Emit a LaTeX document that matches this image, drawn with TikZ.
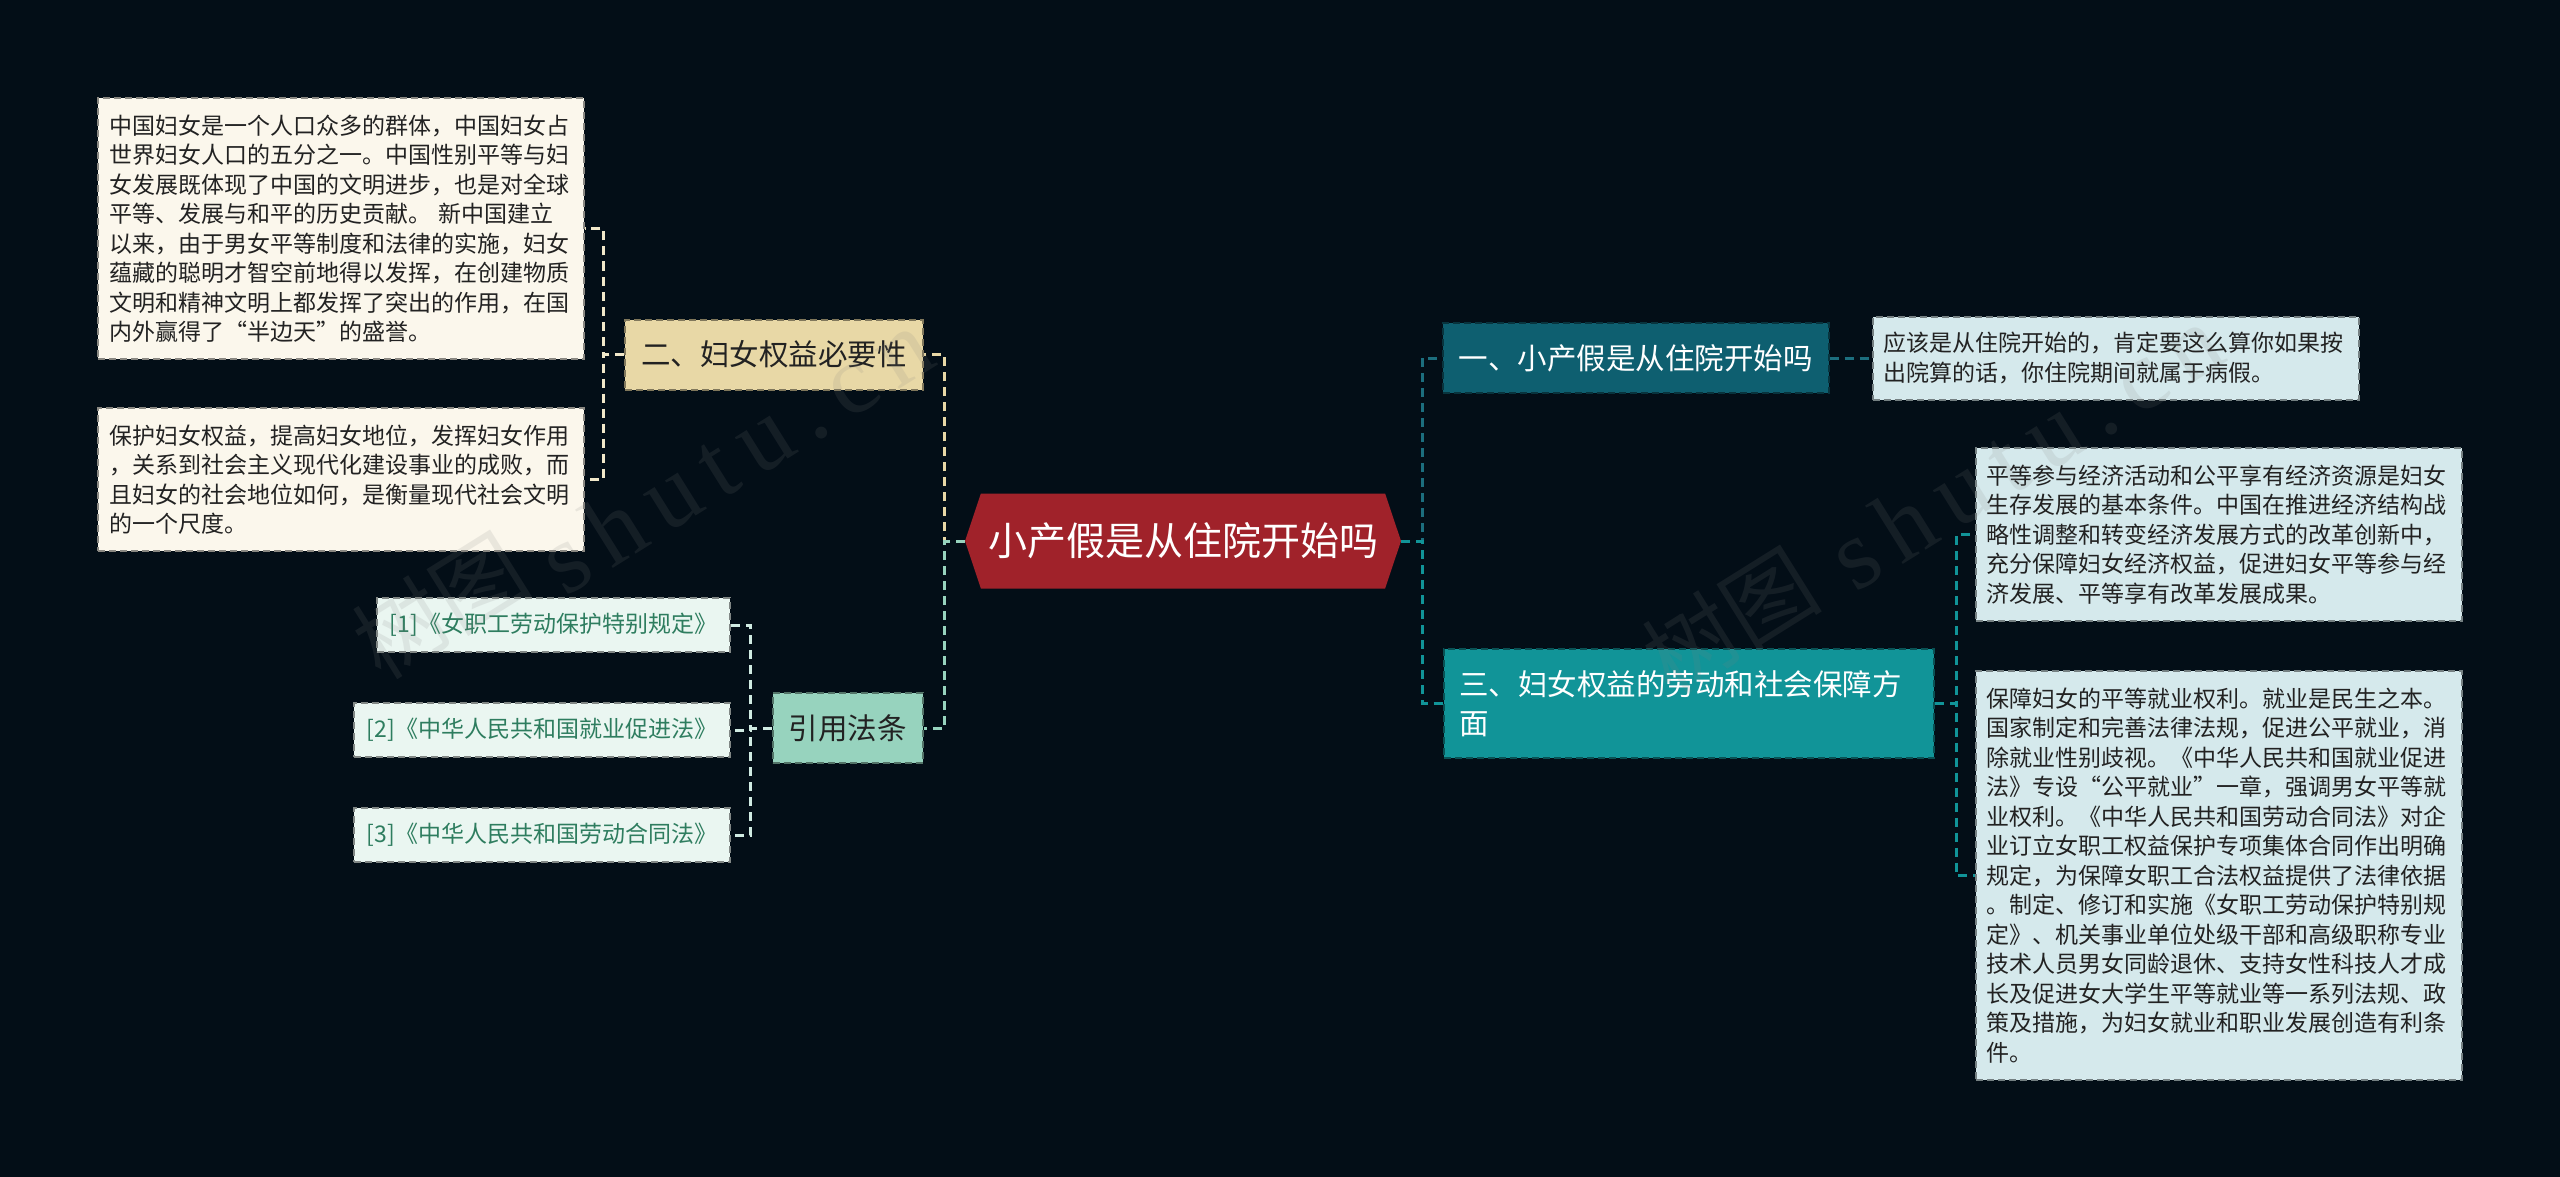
\documentclass[tikz,border=0pt]{standalone}
\usepackage{fontspec}
\setmainfont{Noto Sans CJK SC}
\newfontfamily\latinmark[LetterSpace=15]{Liberation Serif}
\usetikzlibrary{positioning,shapes.symbols}

\definecolor{bgnavy}{HTML}{030E17}
\definecolor{rootred}{HTML}{A0222A}
\definecolor{needsand}{HTML}{E8D8A6}
\definecolor{lawmint}{HTML}{97D3BE}
\definecolor{firstteal}{HTML}{0E5F70}
\definecolor{firstline}{HTML}{1C6E7E}
\definecolor{thirdteal}{HTML}{119498}
\definecolor{notecream}{HTML}{FBF7EC}
\definecolor{lawpale}{HTML}{EAF6F1}
\definecolor{lawgreen}{HTML}{2E7D5F}
\definecolor{noteice}{HTML}{D5E9EC}
\definecolor{inkdark}{HTML}{222222}

\begin{document}
\begin{tikzpicture}[
  x=1pt, y=-1pt,
  node distance=42pt,
  centre/.style={shape=signal, signal to=west and east, signal pointer angle=143, fill=rootred, text=white, minimum width=436pt, minimum height=95pt, font=\fontsize{39}{45}\selectfont},
  topic/.style={draw=#1!55!black, fill=#1, dash pattern=on 7pt off 4pt, line width=2pt, align=left, inner xsep=16pt, minimum height=70pt, font=\fontsize{29.5}{39}\selectfont},
  note/.style={draw=#1!55!black, fill=#1, dash pattern=on 7pt off 4pt, line width=2pt, align=left, inner xsep=11pt, text width=464pt, text=inkdark, font=\fontsize{23}{29.5}\selectfont},
  lawbox/.style={draw=lawpale!55!black, fill=lawpale, dash pattern=on 7pt off 4pt, line width=2pt, minimum height=54pt, anchor=east, text=lawgreen, font=\fontsize{23}{29.5}\selectfont},
  link/.style={draw=#1, dash pattern=on 9pt off 6pt, line width=3pt},
  wmark/.style={text=gray, opacity=0.14, rotate=32, font=\fontsize{90}{90}\selectfont}
]

\fill[bgnavy] (0,0) rectangle (2560,1177);
\useasboundingbox (0,0) rectangle (2560,1177);

% Nodes
\node[centre] (root) at (1183,541) {小产假是从住院开始吗};
\node[topic=needsand, text=inkdark] (need) at (774,354.5) {二、妇女权益必要性};
\node[topic=lawmint, text=inkdark] (laws) at (847.5,728) {引用法条};
\node[topic=firstteal, text=white] (first) at (1635.5,358) {一、小产假是从住院开始吗};
\node[topic=thirdteal, text=white, text width=460pt, inner xsep=15pt, minimum height=109pt] (third) at (1689,703.5) {三、妇女权益的劳动和社会保障方\\面};

\node[note=notecream, minimum height=261pt] (needa) at (341,228.5) {中国妇女是一个人口众多的群体，中国妇女占\\世界妇女人口的五分之一。中国性别平等与妇\\女发展既体现了中国的文明进步，也是对全球\\平等、发展与和平的历史贡献。 新中国建立\\以来，由于男女平等制度和法律的实施，妇女\\蕴藏的聪明才智空前地得以发挥，在创建物质\\文明和精神文明上都发挥了突出的作用，在国\\内外赢得了“半边天”的盛誉。};
\node[note=notecream, minimum height=143pt] (needb) at (341,479.5) {保护妇女权益，提高妇女地位，发挥妇女作用\\，关系到社会主义现代化建设事业的成败，而\\且妇女的社会地位如何，是衡量现代社会文明\\的一个尺度。};

\node[lawbox, minimum width=353pt] (law1) at (731,625) {[1]《女职工劳动保护特别规定》};
\node[lawbox, minimum width=376pt, below=49pt of law1.south east, anchor=north east] (law2) {[2]《中华人民共和国就业促进法》};
\node[lawbox, minimum width=376pt, below=49pt of law2.south east, anchor=north east] (law3) {[3]《中华人民共和国劳动合同法》};

\node[note=noteice, minimum height=83pt, right=of first] (answer) {应该是从住院开始的，肯定要这么算你如果按\\出院算的话，你住院期间就属于病假。};
\node[note=noteice, minimum height=173pt] (econ) at (2218.5,534.5) {平等参与经济活动和公平享有经济资源是妇女\\生存发展的基本条件。中国在推进经济结构战\\略性调整和转变经济发展方式的改革创新中，\\充分保障妇女经济权益，促进妇女平等参与经\\济发展、平等享有改革发展成果。};
\node[note=noteice, minimum height=409pt, below=48pt of econ] (jobs) {保障妇女的平等就业权利。就业是民生之本。\\国家制定和完善法律法规，促进公平就业，消\\除就业性别歧视。《中华人民共和国就业促进\\法》专设“公平就业”一章，强调男女平等就\\业权利。《中华人民共和国劳动合同法》对企\\业订立女职工权益保护专项集体合同作出明确\\规定，为保障女职工合法权益提供了法律依据\\。制定、修订和实施《女职工劳动保护特别规\\定》、机关事业单位处级干部和高级职称专业\\技术人员男女同龄退休、支持女性科技人才成\\长及促进女大学生平等就业等一系列法规、政\\策及措施，为妇女就业和职业发展创造有利条\\件。};

% Connectors
\draw[link=needsand] (root.west) -- ++(-20,0) |- (need.east);
\draw[link=lawmint] (root.west) -- ++(-20,0) |- (laws.east);
\draw[link=firstline] (root.east) -- ++(21,0) |- (first.west);
\draw[link=thirdteal] (root.east) -- ++(21,0) |- (third.west);

\draw[link=needsand!60!white] (need.west) -- ++(-21,0) |- (needa.east);
\draw[link=needsand!60!white] (need.west) -- ++(-21,0) |- (needb.east);
\draw[link=lawmint!45!white] (laws.west) -- ++(-21,0) |- (law1.east);
\draw[link=lawmint!45!white] (laws.west) -- ++(-21,0) |- (law2.east);
\draw[link=lawmint!45!white] (laws.west) -- ++(-21,0) |- (law3.east);
\draw[link=firstline] (first) -- (answer);
\draw[link=thirdteal] (third.east) -- ++(21,0) |- (econ.west);
\draw[link=thirdteal] (third.east) -- ++(21,0) |- (jobs.west);

% Watermarks
\node[wmark] (markleft) at (440,605) {树图};
\node[wmark, font=\fontsize{100}{100}\latinmark] (markleftweb) at (735,452) {shutu.cn};
\node[wmark] (markright) at (1730,620) {树图};
\node[wmark, font=\fontsize{100}{100}\latinmark] (markrightweb) at (2025,448) {shutu.cn};

\end{tikzpicture}
\end{document}
